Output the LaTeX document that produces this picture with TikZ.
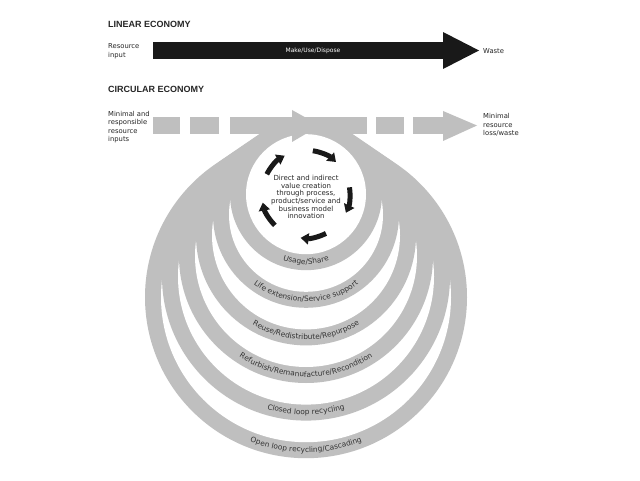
\documentclass[tikz,border=0pt]{standalone}
\usepackage{fontspec}
\setmainfont{DejaVu Sans}
\newfontfamily\titlefont{Liberation Sans}
\usetikzlibrary{arrows.meta,calc,decorations.text}
\newcommand\looptext{\fontsize{7.4}{8}\selectfont}

\begin{document}
\begin{tikzpicture}[x=1pt,y=1pt,
  every node/.style={inner sep=0pt, text=black!85,
    font=\fontsize{6.8}{8.5}\selectfont},
  head/.style={anchor=west, font=\titlefont\bfseries\fontsize{9}{11}\selectfont},
  side/.style={anchor=west, align=left},
  band/.style={fill=black!25},
  spin/.style={line width=5pt, black!90, -{Triangle[length=8pt,width=11pt]}}]
  \useasboundingbox[fill=white] (0,0) rectangle (640,480);
  \node[head] (lin) at (108,456) {LINEAR ECONOMY};
  \node[side] (rin) at (108,429) {Resource\\input};
  \node[side] (waste) at (483,429) {Waste};
  \coordinate (ls) at (153,429.5);
  \coordinate (lt) at (480,429.5);
  \draw[line width=17pt, black!90, -{Triangle[length=37pt,width=34pt]}] (ls) -- (lt);
  \node[text=white, font=\fontsize{6}{7}\selectfont] (mud) at (313,429.5) {Make/Use/Dispose};
  \node[head] (circ) at (108,390.5) {CIRCULAR ECONOMY};
  \node[side] (cin) at (108,353) {Minimal and\\responsible\\resource\\inputs};
  \node[side] (cout) at (483,355) {Minimal\\resource\\loss/waste};
  \foreach \lbl [count=\i] in {{Open loop recycling/Cascading},{Closed loop recycling},
      {Refurbish/Remanufacture/Recondition},{Reuse/Redistribute/Repurpose},
      {Life extension/Service support},{Usage/Share}}{
    \pgfmathtruncatemacro\k{6-\i}
    \pgfmathsetmacro\r{70+17*\k}
    \coordinate (c\k) at (306,285.8-20.6*\k);
    \fill[band] (c\k) circle[radius=76+17*\k];
    \fill[white] (c\k) circle[radius=60+17*\k];
    \path[decorate, decoration={text along path, text align=center, text color=black!80,
      text/.expanded={|\noexpand\looptext|\lbl}}]
      ($(c\k)+(200:\r)$) arc[start angle=200, end angle=340, radius=\r];
  }
  \foreach \a/\b in {153/180,190/219,230/367,376/404,413/443}
    \fill[band] (\a,346) rectangle (\b,363);
  \fill[band] (292,370) -- (320,354.5) -- (292,338) -- cycle;
  \fill[band] (443,369) -- (477,354.5) -- (443,339) -- cycle;
  \node[align=center, font=\fontsize{7}{7.7}\selectfont] (core) at (306,283)
    {Direct and indirect\\value creation\\through process,\\product/service and\\business model\\innovation};
  \foreach \a in {64,-8,-80,-152,136}
    \draw[spin] ($(c0)+(\a+17:44)$) arc[start angle=\a+17, end angle=\a-17, radius=44];
\end{tikzpicture}
\end{document}
